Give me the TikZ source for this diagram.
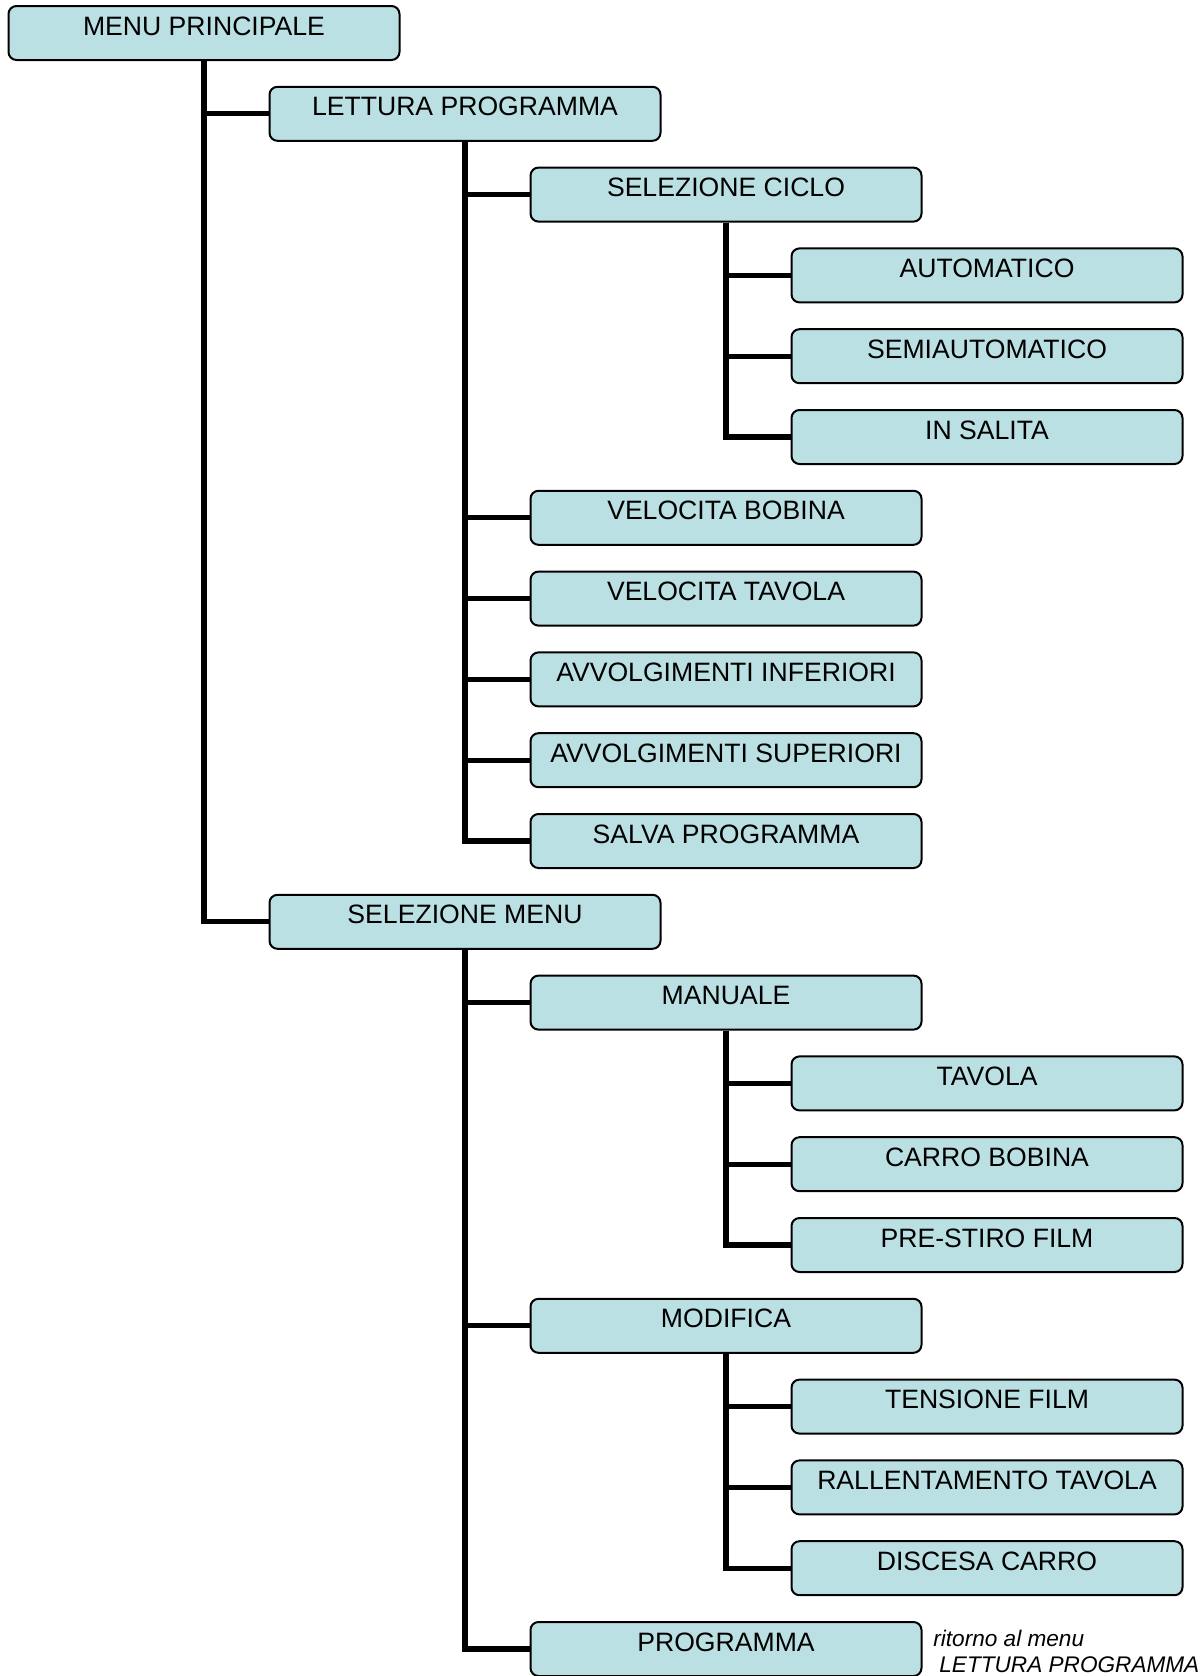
\documentclass[tikz,border=0pt]{standalone}
\usepackage{fontspec}
\setmainfont{Liberation Sans}
\definecolor{azzurro}{RGB}{187,224,227}

\begin{document}
\begin{tikzpicture}[x=0.5pt,y=0.5pt,
  voce/.style={draw,line width=1pt,fill=azzurro,rounded corners=4pt,
    minimum width=195.5pt,inner sep=0pt,text height=14.5pt,text depth=12.5pt,
    font=\fontsize{13.3}{16}\selectfont},
  ramo/.style={line width=2.6pt},
  nota/.style={align=left,inner sep=0pt,font=\fontsize{11.3}{13}\selectfont\itshape}]

\useasboundingbox(0,0) rectangle (1203,-1676);

\node[voce](menu) at (204,-33){MENU PRINCIPALE};
\node[voce](lettura) at (465,-113.8){LETTURA PROGRAMMA};
\node[voce](ciclo) at (726,-194.6){SELEZIONE CICLO};
\node[voce](auto) at (987,-275.4){AUTOMATICO};
\node[voce](semi) at (987,-356.2){SEMIAUTOMATICO};
\node[voce](salita) at (987,-437){IN SALITA};
\node[voce](bobina) at (726,-517.8){VELOCITA BOBINA};
\node[voce](veltav) at (726,-598.6){VELOCITA TAVOLA};
\node[voce](inf) at (726,-679.4){AVVOLGIMENTI INFERIORI};
\node[voce](sup) at (726,-760.2){AVVOLGIMENTI SUPERIORI};
\node[voce](salva) at (726,-841){SALVA PROGRAMMA};
\node[voce](selmenu) at (465,-921.8){SELEZIONE MENU};
\node[voce](manuale) at (726,-1002.6){MANUALE};
\node[voce](tavola) at (987,-1083.4){TAVOLA};
\node[voce](carro) at (987,-1164.2){CARRO BOBINA};
\node[voce](stiro) at (987,-1245){PRE-STIRO FILM};
\node[voce](modifica) at (726,-1325.8){MODIFICA};
\node[voce](tensione) at (987,-1406.6){TENSIONE FILM};
\node[voce](rallenta) at (987,-1487.4){RALLENTAMENTO TAVOLA};
\node[voce](discesa) at (987,-1568.2){DISCESA CARRO};
\node[voce](programma) at (726,-1649){PROGRAMMA};

\node[nota,anchor=base west](ritorno) at (933,-1672){ritorno al menu\\\hspace*{3pt}LETTURA PROGRAMMA};

\draw[ramo](menu.south)|-(lettura.west);
\draw[ramo](menu.south)|-(selmenu.west);

\draw[ramo](lettura.south)|-(ciclo.west);
\draw[ramo](lettura.south)|-(bobina.west);
\draw[ramo](lettura.south)|-(veltav.west);
\draw[ramo](lettura.south)|-(inf.west);
\draw[ramo](lettura.south)|-(sup.west);
\draw[ramo](lettura.south)|-(salva.west);

\draw[ramo](ciclo.south)|-(auto.west);
\draw[ramo](ciclo.south)|-(semi.west);
\draw[ramo](ciclo.south)|-(salita.west);

\draw[ramo](selmenu.south)|-(manuale.west);
\draw[ramo](selmenu.south)|-(modifica.west);
\draw[ramo](selmenu.south)|-(programma.west);

\draw[ramo](manuale.south)|-(tavola.west);
\draw[ramo](manuale.south)|-(carro.west);
\draw[ramo](manuale.south)|-(stiro.west);

\draw[ramo](modifica.south)|-(tensione.west);
\draw[ramo](modifica.south)|-(rallenta.west);
\draw[ramo](modifica.south)|-(discesa.west);

\end{tikzpicture}
\end{document}
